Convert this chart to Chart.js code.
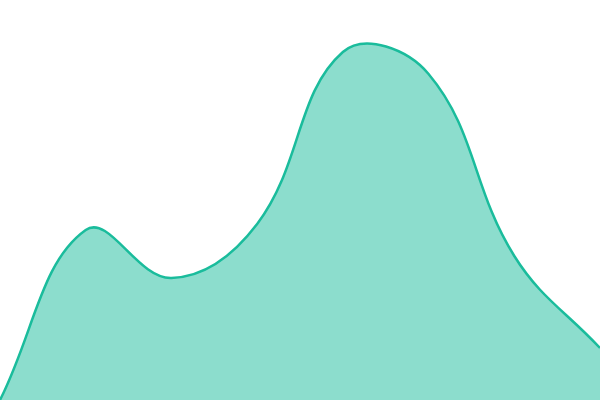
<!DOCTYPE html>
<html>
<head>
<meta charset="utf-8">
<script src="https://cdn.jsdelivr.net/npm/chart.js@4"></script>
<style>
  html, body { margin: 0; padding: 0; background: #fff; }
  #wrap { width: 600px; height: 400px; }
</style>
</head>
<body>
<div id="wrap"><canvas id="areaChart"></canvas></div>
<script>
// Data
const labels = ["1", "2", "3", "4", "5", "6", "7", "8"];
const values = [0, 42.5, 30.5, 44, 87, 81.5, 36, 13];
const yMin = 0;
const yMax = 100;

window.onload = () => {
  const ctx = document.getElementById("areaChart").getContext("2d");
  new Chart(ctx, {
    type: "line",
    data: {
      labels: labels,
      datasets: [
        {
          data: values,
          fill: "start",
          backgroundColor: "rgba(26, 188, 156, 0.5)",
          borderColor: "#1abc9c",
          borderWidth: 2.5,
          tension: 0.4,
          pointRadius: 0,
        },
      ],
    },
    options: {
      responsive: true,
      maintainAspectRatio: false,
      animation: false,
      layout: { padding: 0 },
      plugins: {
        legend: { display: false },
        tooltip: { enabled: false },
      },
      scales: {
        x: { display: false },
        y: { display: false, min: yMin, max: yMax },
      },
    },
  });
};
</script>
</body>
</html>
